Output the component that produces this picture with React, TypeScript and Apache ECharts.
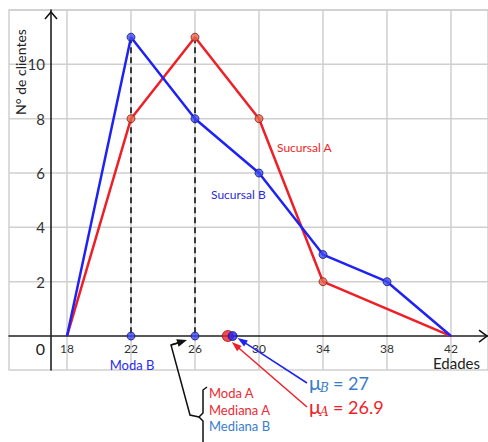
import React, { useEffect, useRef } from "react";
import * as echarts from "echarts";

// ---- data ----
const agesA = [18, 22, 26, 30, 34, 42];
const countsA = [0, 8, 11, 8, 2, 0];
const agesB = [18, 22, 26, 30, 34, 38, 42];
const countsB = [0, 11, 8, 6, 3, 2, 0];
const modeAges = [22, 26]; // Moda B, Moda A / Mediana A / Mediana B
const modeCounts = [11, 11];
const meanLabels = ["27", "26.9"]; // μB, μA
const meanMarkerPos = [28.35, 28.05]; // where the dots sit on the picture (B, A)
const xTicks = [18, 22, 26, 30, 34, 38, 42];
const yTicks = [2, 4, 6, 8, 10];
const gridXs = [18, 22, 26, 30, 34, 38, 42];
const gridYs = [2, 4, 6, 8, 10, 12];
const xMin = 14.375;
const xMax = 44.3125;
const yMin = -1.25;
const yMax = 12;
const yAxisAt = 17;

const RED = "#ee1f26";
const BLUE = "#1f22f5";
const STEEL = "#3a7dcc";
const FONT = "Lato";
const GRID_W = 479;
const GRID_H = 360;

function arrow(x1: number, y1: number, x2: number, y2: number, color: string, w: number, hl = 10, hw = 3.5) {
  const dx = x2 - x1, dy = y2 - y1;
  const L = Math.sqrt(dx * dx + dy * dy);
  const ux = dx / L, uy = dy / L;
  const bx = x2 - ux * hl, by = y2 - uy * hl;
  const px = -uy, py = ux;
  return [
    { type: "line", silent: true, z: 100, shape: { x1, y1, x2: bx + ux * 2, y2: by + uy * 2 }, style: { stroke: color, lineWidth: w } },
    {
      type: "polygon", silent: true, z: 100,
      shape: { points: [[x2, y2], [bx + px * hw, by + py * hw], [bx - px * hw, by - py * hw]] },
      style: { fill: color },
    },
  ];
}

export default function App() {
  const ref = useRef<HTMLDivElement>(null);
  useEffect(() => {
    if (!ref.current) return;
    const chart = echarts.init(ref.current, undefined, { renderer: "svg" });
    const markerA = { color: "#e8654d", borderColor: "#7a2418", borderWidth: 1 };
    const markerB = { color: "#3d48ee", borderColor: "#1a1d7a", borderWidth: 1 };
    const option: any = {
      animation: false,
      textStyle: { fontFamily: FONT },
      grid: { left: 9, right: 0, top: 10, bottom: 72, show: true, borderColor: "#cfcfcf", borderWidth: 1.5, containLabel: false },
      xAxis: {
        type: "value", min: xMin, max: xMax,
        offset: -((0 - yMin) * (GRID_H / (yMax - yMin))),
        axisLine: { show: true, onZero: false, lineStyle: { color: "#222", width: 1.5 } },
        axisTick: { show: false },
        splitLine: { show: false },
        axisLabel: { customValues: xTicks, margin: 6, fontSize: 12, color: "#333", fontFamily: FONT },
      },
      yAxis: {
        type: "value", min: yMin, max: yMax,
        offset: -((yAxisAt - xMin) * (GRID_W / (xMax - xMin))),
        axisLine: { show: true, onZero: false, lineStyle: { color: "#111", width: 1.5 } },
        axisTick: { show: false },
        splitLine: { show: false },
        axisLabel: { customValues: yTicks, margin: 6, fontSize: 15, color: "#333", fontFamily: FONT },
      },
      series: [
        {
          type: "custom", silent: true, z: 0, data: gridXs.map((v) => [v]),
          renderItem: (_p: any, api: any) => {
            const x = api.value(0);
            const a = api.coord([x, yMin]);
            const b = api.coord([x, yMax]);
            return { type: "line", shape: { x1: a[0], y1: a[1], x2: b[0], y2: b[1] }, style: { stroke: "#cfcfcf", lineWidth: 1.5 } };
          },
        },
        {
          type: "custom", silent: true, z: 0, data: gridYs.map((v) => [xMin, v]),
          renderItem: (_p: any, api: any) => {
            const y = api.value(1);
            const a = api.coord([xMin, y]);
            const b = api.coord([xMax, y]);
            return { type: "line", shape: { x1: a[0], y1: a[1], x2: b[0], y2: b[1] }, style: { stroke: "#cfcfcf", lineWidth: 1.5 } };
          },
        },
        ...modeAges.map((a, i) => ({
          type: "line", data: [[a, modeCounts[i]], [a, 0]], symbol: "none", silent: true, z: 2,
          lineStyle: { color: "#111", width: 1.6, type: [6, 4] },
        })),
        {
          type: "line", name: "Sucursal A", z: 3, symbol: "none",
          data: agesA.map((a, i) => [a, countsA[i]]),
          lineStyle: { color: RED, width: 2.5 },
        },
        {
          type: "line", name: "Sucursal B", z: 4, symbol: "none",
          data: agesB.map((a, i) => [a, countsB[i]]),
          lineStyle: { color: BLUE, width: 2.5 },
        },
        {
          type: "scatter", z: 5, symbolSize: 8, itemStyle: markerA,
          data: agesA.map((a, i) => [a, countsA[i]]).filter((d) => d[1] > 0),
        },
        {
          type: "scatter", z: 6, symbolSize: 8, itemStyle: markerB,
          data: agesB.map((a, i) => [a, countsB[i]]).filter((d) => d[1] > 0),
        },
        {
          type: "scatter", z: 6, symbolSize: 8, itemStyle: markerB,
          data: modeAges.map((a) => [a, 0]),
        },
        {
          type: "scatter", z: 6, symbolSize: 11, itemStyle: { color: RED, borderColor: "#a01010", borderWidth: 1 },
          data: [[meanMarkerPos[1], 0]],
        },
        {
          type: "scatter", z: 7, symbolSize: 9, itemStyle: { color: BLUE, borderColor: "#10108a", borderWidth: 1 },
          data: [[meanMarkerPos[0], 0]],
        },
      ],
    };
    chart.setOption(option);
    const P = (x: number, y: number) => chart.convertToPixel({ gridIndex: 0 }, [x, y]) as number[];
    const origin = P(yAxisAt, 0);
    const right = P(xMax, 0);
    const top = P(yAxisAt, yMax);
    const dotB = P(meanMarkerPos[0], 0);
    const dotA = P(meanMarkerPos[1], 0);
    const d26 = P(modeAges[1], 0);
    const d22 = P(modeAges[0], 0);
    const g: any[] = [];
    // axis chevrons
    g.push({ type: "polyline", silent: true, z: 100, shape: { points: [[top[0] - 6, top[1] + 9], [top[0], top[1] + 2], [top[0] + 6, top[1] + 9]] }, style: { stroke: "#111", lineWidth: 1.5, fill: "none" } });
    g.push({ type: "polyline", silent: true, z: 100, shape: { points: [[right[0] - 9, right[1] - 6], [right[0] - 1, right[1]], [right[0] - 9, right[1] + 6]] }, style: { stroke: "#111", lineWidth: 1.5, fill: "none" } });
    // texts
    g.push({ type: "text", silent: true, x: 20, y: 72, rotation: Math.PI / 2, style: { text: "N° de clientes", font: `14px ${FONT}`, fill: "#222", align: "center", verticalAlign: "middle" } });
    g.push({ type: "text", silent: true, x: origin[0] - 6, y: origin[1] + 12, style: { text: "0", font: `16px ${FONT}`, fill: "#222", align: "right", verticalAlign: "middle" } });
    g.push({ type: "text", silent: true, x: 433, y: 363, style: { text: "Edades", font: `15px ${FONT}`, fill: "#222", align: "left", verticalAlign: "middle" } });
    g.push({ type: "text", silent: true, x: 277, y: 147, style: { text: "Sucursal A", font: `12px ${FONT}`, fill: RED, align: "left", verticalAlign: "middle" } });
    g.push({ type: "text", silent: true, x: 211, y: 194, style: { text: "Sucursal B", font: `12px ${FONT}`, fill: "#2a2ad8", align: "left", verticalAlign: "middle" } });
    g.push({ type: "text", silent: true, x: d22[0] + 1, y: 365, style: { text: "Moda B", font: `13px ${FONT}`, fill: "#2a2aee", align: "center", verticalAlign: "middle" } });
    // mean arrows
    g.push(...arrow(307, 383, dotB[0] + 5, dotB[1] + 2, BLUE, 1.5));
    g.push(...arrow(307, 407, dotA[0] + 4, dotA[1] + 6, RED, 1.5));
    const meanText = (y: number, sub: string, val: string, color: string) => [
      { type: "text", silent: true, x: 309, y: y - 1, style: { text: "μ", font: `20px ${FONT}`, fill: color, align: "left", verticalAlign: "middle" } },
      { type: "text", silent: true, x: 320, y: y + 5, style: { text: sub, font: `italic 12px 'DejaVu Serif'`, fill: color, align: "left", verticalAlign: "middle" } },
      { type: "text", silent: true, x: 333, y, style: { text: `= ${val}`, font: `18px ${FONT}`, fill: color, align: "left", verticalAlign: "middle" } },
    ];
    g.push(...meanText(383, "B", meanLabels[0], STEEL));
    g.push(...meanText(407, "A", meanLabels[1], RED));
    // bracket + texts
    g.push({ type: "polyline", silent: true, z: 100, shape: { points: [[207, 387], [203, 390], [203, 413], [199, 417], [203, 421], [203, 442]] }, style: { stroke: "#111", lineWidth: 1.5, fill: "none" } });
    g.push({ type: "polyline", silent: true, z: 100, shape: { points: [[199, 417], [190, 415], [171, 345], [178, 343]] }, style: { stroke: "#111", lineWidth: 1.5, fill: "none" } });
    g.push(...arrow(171, 345, d26[0] - 8, d26[1] + 4, "#111", 1.5, 10, 4));
    g.push({ type: "text", silent: true, x: 209, y: 393, style: { text: "Moda A", font: `13px ${FONT}`, fill: "#ee2a33", align: "left", verticalAlign: "middle" } });
    g.push({ type: "text", silent: true, x: 209, y: 410, style: { text: "Mediana A", font: `13px ${FONT}`, fill: "#ee2a33", align: "left", verticalAlign: "middle" } });
    g.push({ type: "text", silent: true, x: 209, y: 426, style: { text: "Mediana B", font: `13px ${FONT}`, fill: STEEL, align: "left", verticalAlign: "middle" } });
    chart.setOption({ graphic: g });
    return () => chart.dispose();
  }, []);
  return <div ref={ref} style={{ position: "fixed", left: 0, top: 0, width: 488, height: 442, background: "#fff" }} />;
}
